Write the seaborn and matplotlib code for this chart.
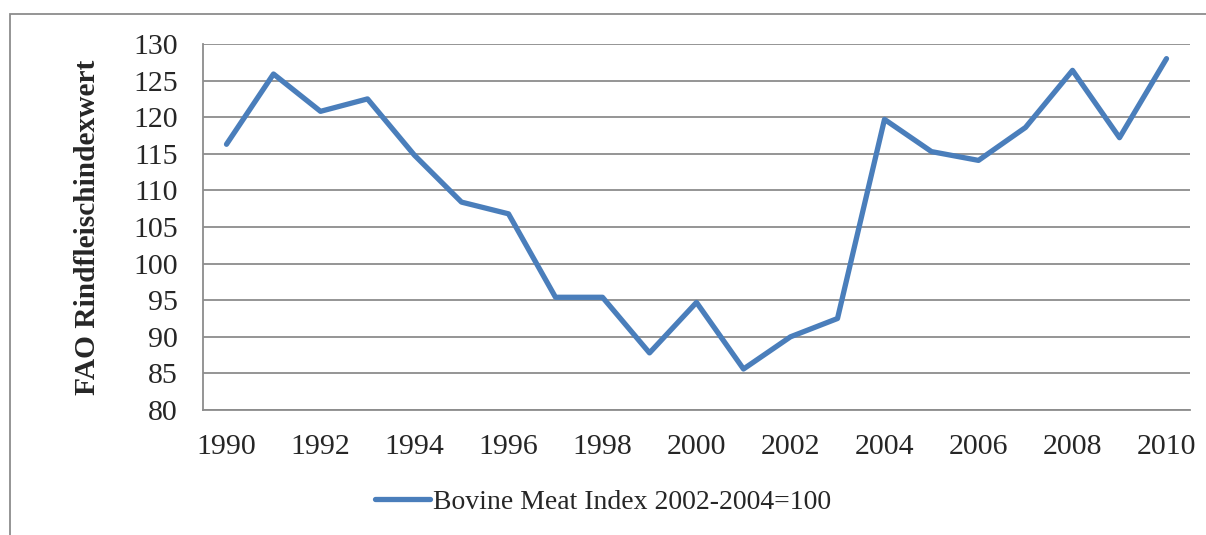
import matplotlib
matplotlib.use("Agg")
import matplotlib.pyplot as plt
import seaborn as sns
import pandas as pd
from matplotlib.patches import Rectangle

# Daten
years = list(range(1990, 2011))
index_values = [116.3, 125.9, 120.8, 122.5, 114.8, 108.4, 106.8, 95.4, 95.4, 87.8,
                94.7, 85.6, 90.0, 92.5, 119.7, 115.3, 114.1, 118.6, 126.4, 117.2, 128.0]
series_label = "Bovine Meat Index 2002-2004=100"
y_label = "FAO Rindfleischindexwert"

df = pd.DataFrame({"pos": range(len(years)), "value": index_values})

sns.set_style("white")
plt.rcParams["font.family"] = ["Liberation Serif", "DejaVu Serif"]

fig = plt.figure(figsize=(12.06, 5.35), dpi=100)
ax = fig.add_axes([203 / 1206, 1 - 410 / 535, (1190 - 203) / 1206, (410 - 44) / 535])

sns.lineplot(data=df, x="pos", y="value", ax=ax, color="#4A7EBB",
             linewidth=3.8, label=series_label, legend=False)

ax.set_xlim(-0.5, len(years) - 0.5)
ax.set_ylim(80, 130)
ax.set_yticks(range(80, 131, 5))
ax.yaxis.grid(True, color="#8C8C8C", linewidth=1.3)
ax.set_axisbelow(True)

# Striche an den Kategoriegrenzen, Beschriftung in der Mitte
ax.set_xticks([i - 0.5 for i in range(0, len(years), 2)])
ax.set_xticklabels([])
ax.set_xticks(list(range(0, len(years), 2)), minor=True)
ax.set_xticklabels([str(y) for y in years[::2]], minor=True)
ax.tick_params(axis="x", which="major", length=8, width=1.3, color="#8C8C8C", direction="out")
ax.tick_params(axis="x", which="minor", length=0, labelsize=21.5, pad=17)
ax.tick_params(axis="y", length=8, width=1.3, color="#8C8C8C", direction="out",
               labelsize=21.5, pad=10)

for s in ["top", "right"]:
    ax.spines[s].set_visible(False)
for s in ["left", "bottom"]:
    ax.spines[s].set_color("#8C8C8C")
    ax.spines[s].set_linewidth(1.3)

ax.set_xlabel("")
ax.set_ylabel(y_label, fontsize=21.2, fontweight="bold", labelpad=23)

handles, labels = ax.get_legend_handles_labels()
fig.legend(handles, labels, loc="center", bbox_to_anchor=(0.5, 1 - 502 / 535),
           frameon=False, fontsize=20, handlelength=2.0, handletextpad=0.1)

# Rahmen um das Diagramm
fig.patches.append(Rectangle((10 / 1206, -0.05), 1.1, 1.05 - 14 / 535,
                             transform=fig.transFigure, fill=False,
                             edgecolor="#8C8C8C", linewidth=1.3))

fig.savefig("out.png", dpi=100)
